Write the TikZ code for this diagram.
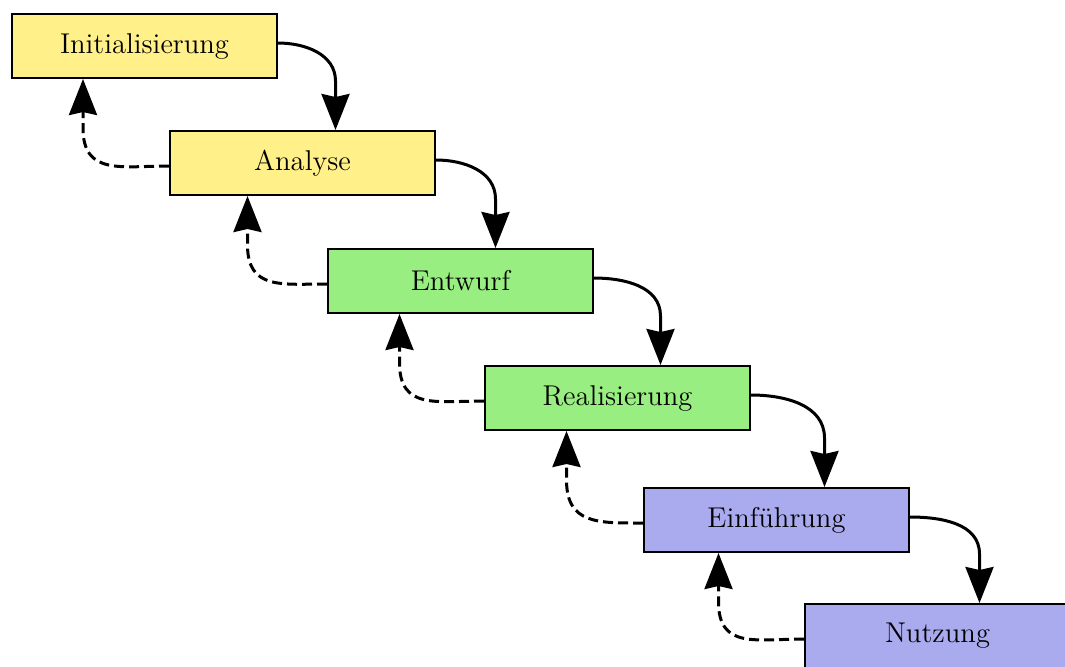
\documentclass[tikz,border=0pt]{standalone}
\usetikzlibrary{arrows.meta}
\definecolor{phaseyellow}{RGB}{255,240,138}
\definecolor{phasegreen}{RGB}{152,238,128}
\definecolor{phaseblue}{RGB}{170,170,238}
\begin{document}
\begin{tikzpicture}[x=0.5pt,y=-0.5pt,
  phase/.style={draw=black, line width=1pt, minimum width=132.5pt,
    minimum height=32pt, inner sep=0pt, anchor=north west,
    font=\fontsize{14.3}{16}\selectfont},
  tip/.style={-{Stealth[length=18pt,width=14pt,inset=1.5pt]}},
  forward/.style={tip, line width=1.5pt},
  back/.style={tip, line width=1.5pt, dash pattern=on 5pt off 2.5pt}]
\useasboundingbox (0,0) rectangle (1065,666);
\clip (0,0) rectangle (1065,666);

% the six phases of the waterfall model
\node[phase, fill=phaseyellow] (p1) at (11,13)  {Initialisierung};
\node[phase, fill=phaseyellow] (p2) at (169,130) {Analyse};
\node[phase, fill=phasegreen]  (p3) at (327,248) {Entwurf};
\node[phase, fill=phasegreen]  (p4) at (484,365) {Realisierung};
\node[phase, fill=phaseblue]   (p5) at (643,487) {Einführung};
\node[phase, fill=phaseblue]   (p6) at (804,603) {Nutzung};

% forward steps and feedback loops
\foreach \a/\b/\f/\r in {p1/p2/16.5/-30.75, p2/p3/17.5/-27.5,
    p3/p4/21.5/-30.5, p4/p5/24/-25.5, p5/p6/21/-29} {
  \draw[forward] ([yshift=1.5pt]\a.east)
    to[out=0, in=90] ([xshift=\f pt, yshift=24.5pt]\b.north)
    -- ([xshift=\f pt]\b.north);
  \draw[back] ([yshift=-1.5pt]\b.west)
    to[out=180, in=-90, looseness=1.3] ([xshift=\r pt, yshift=-24.5pt]\a.south)
    -- ([xshift=\r pt]\a.south);
}
\end{tikzpicture}
\end{document}
